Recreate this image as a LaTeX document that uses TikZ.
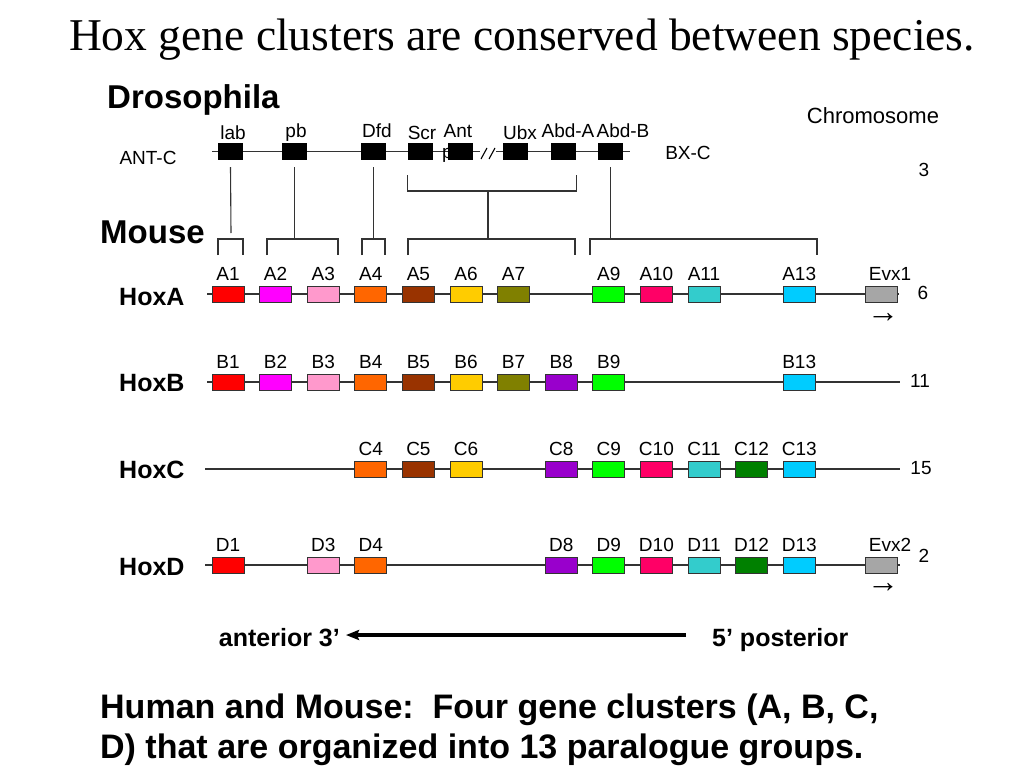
\documentclass[tikz,border=0pt]{standalone}
\usepackage{fontspec}
\setmainfont{Liberation Sans}
\newfontfamily\titlefont{Liberation Serif}
\usetikzlibrary{arrows.meta}
\definecolor{g1}{HTML}{FF0000}
\definecolor{g2}{HTML}{FF00FF}
\definecolor{g3}{HTML}{FF99CC}
\definecolor{g4}{HTML}{FF6600}
\definecolor{g5}{HTML}{993300}
\definecolor{g6}{HTML}{FFCC00}
\definecolor{g7}{HTML}{808000}
\definecolor{g8}{HTML}{9900CC}
\definecolor{g9}{HTML}{00FF00}
\definecolor{g10}{HTML}{FF0066}
\definecolor{g11}{HTML}{33CCCC}
\definecolor{g12}{HTML}{008000}
\definecolor{g13}{HTML}{00CCFF}
\definecolor{gE}{HTML}{A6A6A6}
\definecolor{edge}{HTML}{333333}
\begin{document}
\begin{tikzpicture}[x=1pt,y=-1pt,
  gene/.style={draw=edge, line width=0.9pt, minimum width=32pt, minimum height=16pt, inner sep=0pt},
  fly/.style={fill=black, minimum width=25pt, minimum height=17pt, inner sep=0pt},
  glab/.style={font=\fontsize{19}{19}\selectfont, anchor=base, inner sep=0pt},
  small/.style={font=\fontsize{19}{19}\selectfont, inner sep=0pt},
  evxarrow/.style={font=\fontsize{32}{32}\selectfont, inner sep=0pt},
  chrom/.style={line width=1.1pt, edge},
  conn/.style={line width=1.1pt, edge},
  rowlab/.style={font=\fontsize{25}{25}\selectfont\bfseries, anchor=west, inner sep=0pt},
  head/.style={font=\fontsize{33}{33}\selectfont\bfseries, anchor=base west, inner sep=0pt},
  bigarrow/.style={line width=3.3pt, -{Stealth[length=13pt,width=10pt,inset=2pt]}}
]
\useasboundingbox[fill=white] (0,0) rectangle (1024,768);

% Title
\node[font=\titlefont\fontsize{45.5}{45.5}\selectfont, anchor=base, inner sep=0pt] (title) at (522,51) {Hox gene clusters are conserved between species.};

% Drosophila
\node[head] (dros) at (107,108) {Drosophila};
\node[small] (antc) at (148,158) {ANT-C};
\node[small] (bxc) at (688,153) {BX-C};
\node[font=\fontsize{22}{22}\selectfont, inner sep=0pt] (chromo) at (873,116) {Chromosome};
\node[small] (n3) at (924,170) {3};

\coordinate (flyA) at (212,151.5);
\coordinate (flyB) at (480,151.5);
\coordinate (flyC) at (496,151.5);
\coordinate (flyD) at (630,151.5);
\draw[chrom] (flyA) -- (flyB);
\draw[chrom] (flyC) -- (flyD);
\coordinate (s1a) at (481,159); \coordinate (s1b) at (487,148);
\coordinate (s2a) at (489,159); \coordinate (s2b) at (495,148);
\draw[line width=1.1pt] (s1a) -- (s1b);
\draw[line width=1.1pt] (s2a) -- (s2b);

\node[small, anchor=base west] (pglyph) at (442,158) {p};

\node[fly] (lab) at (230.5,151.5) {};
\node[fly] (pb) at (294.5,151.5) {};
\node[fly] (dfd) at (373.5,151.5) {};
\node[fly] (scr) at (420.5,151.5) {};
\node[fly] (ant) at (460.5,151.5) {};
\node[fly] (ubx) at (515.5,151.5) {};
\node[fly] (abda) at (563.5,151.5) {};
\node[fly] (abdb) at (610.5,151.5) {};

\node[glab] (llab) at (233,139) {lab};
\node[glab] (lpb) at (296,137) {pb};
\node[glab] (ldfd) at (377,137) {Dfd};
\node[glab] (lscr) at (422,139) {Scr};
\node[glab] (lant) at (458,137) {Ant};
\node[glab] (lubx) at (520,139) {Ubx};
\node[glab] (labda) at (568,137) {Abd-A};
\node[glab] (labdb) at (623,137) {Abd-B};

% Mouse
\node[head] (mouse) at (100,243) {Mouse};

% mouse brackets
\coordinate (b1l) at (218,255); \coordinate (b1r) at (243,255);
\coordinate (b2l) at (267,255); \coordinate (b2r) at (338,255);
\coordinate (b3l) at (362,255); \coordinate (b3r) at (385,255);
\coordinate (b4l) at (408,255); \coordinate (b4r) at (575,255);
\coordinate (b5l) at (590,255); \coordinate (b5r) at (817,255);
\draw[conn] (b1l) -- ++(0,-16) -| (b1r);
\draw[conn] (b2l) -- ++(0,-16) -| (b2r);
\draw[conn] (b3l) -- ++(0,-16) -| (b3r);
\draw[conn] (b4l) -- ++(0,-16) -| (b4r);
\draw[conn] (b5l) -- ++(0,-16) -| (b5r);

% connectors fly -> mouse
\coordinate (labend) at (231,233);
\coordinate (pbend) at (294.5,239);
\coordinate (dfdend) at (373.5,239);
\coordinate (midend) at (488,239);
\coordinate (midtop) at (488,191);
\coordinate (abdbend) at (610.5,239);
\draw[conn] ([yshift=-7pt]lab.south) -- (labend);
\draw[conn] ([yshift=-7pt]pb.south) -- (pbend);
\draw[conn] ([yshift=-7pt]dfd.south) -- (dfdend);
\draw[conn] ([yshift=-7pt]abdb.south) -- (abdbend);
\draw[conn] ([yshift=-15pt]scr.south west) |- (midtop) -| ([yshift=-15pt]abda.south east);
\draw[conn] (midtop) -- (midend);

% HoxA
\node[rowlab] (hoxa) at (119,297) {HoxA};
\coordinate (Aa) at (207,294); \coordinate (Ab) at (899,294);
\draw[chrom] (Aa) -- (Ab);
\foreach \i in {1,2,3,4,5,6,7,9,10,11,13}{
  \node[gene, fill=g\i] (A\i) at ({228+(\i-1)*47.6},294) {};
  \node[glab] (lA\i) at ({228+(\i-1)*47.6},280) {A\i};
}
\node[gene, fill=gE] (EvxA) at (881,294) {};
\node[glab] (lEvxA) at (890,280) {Evx1};
\node[small] (n6) at (923,293) {6};
\node[evxarrow] (arrA) at (883,318) {→};

% HoxB
\node[rowlab] (hoxb) at (119,383) {HoxB};
\coordinate (Ba) at (207,382); \coordinate (Bb) at (900,382);
\draw[chrom] (Ba) -- (Bb);
\foreach \i in {1,2,3,4,5,6,7,8,9,13}{
  \node[gene, fill=g\i] (B\i) at ({228+(\i-1)*47.6},382) {};
  \node[glab] (lB\i) at ({228+(\i-1)*47.6},368) {B\i};
}
\node[small] (n11) at (920,381) {11};

% HoxC
\node[rowlab] (hoxc) at (119,470) {HoxC};
\coordinate (Ca) at (205,469); \coordinate (Cb) at (900,469);
\draw[chrom] (Ca) -- (Cb);
\foreach \i in {4,5,6,8,9,10,11,12,13}{
  \node[gene, fill=g\i] (C\i) at ({228+(\i-1)*47.6},469) {};
  \node[glab] (lC\i) at ({228+(\i-1)*47.6},455) {C\i};
}
\node[small] (n15) at (921,468) {15};

% HoxD
\node[rowlab] (hoxd) at (119,567) {HoxD};
\coordinate (Da) at (205,565); \coordinate (Db) at (900,565);
\draw[chrom] (Da) -- (Db);
\foreach \i in {1,3,4,8,9,10,11,12,13}{
  \node[gene, fill=g\i] (D\i) at ({228+(\i-1)*47.6},565) {};
  \node[glab] (lD\i) at ({228+(\i-1)*47.6},551) {D\i};
}
\node[gene, fill=gE] (EvxD) at (881,565) {};
\node[glab] (lEvxD) at (890,551) {Evx2};
\node[small] (n2) at (924,556) {2};
\node[evxarrow] (arrD) at (883,588) {→};

% anterior / posterior
\node[font=\fontsize{25}{25}\selectfont\bfseries, anchor=base east, inner sep=0pt] (anterior) at (340,646) {anterior 3’};
\node[font=\fontsize{25}{25}\selectfont\bfseries, anchor=base west, inner sep=0pt] (posterior) at (712,646) {5’ posterior};
\coordinate (arrS) at (686,635);
\coordinate (arrE) at (346,635);
\draw[bigarrow] (arrS) -- (arrE);

% bottom text
\node[font=\fontsize{34}{40}\selectfont\bfseries, anchor=base west, inner sep=0pt] (sum1) at (100,718) {Human and Mouse:\ \ Four gene clusters (A, B, C,};
\node[font=\fontsize{34}{40}\selectfont\bfseries, anchor=base west, inner sep=0pt] (sum2) at (100,758) {D) that are organized into 13 paralogue groups.};
\end{tikzpicture}
\end{document}
